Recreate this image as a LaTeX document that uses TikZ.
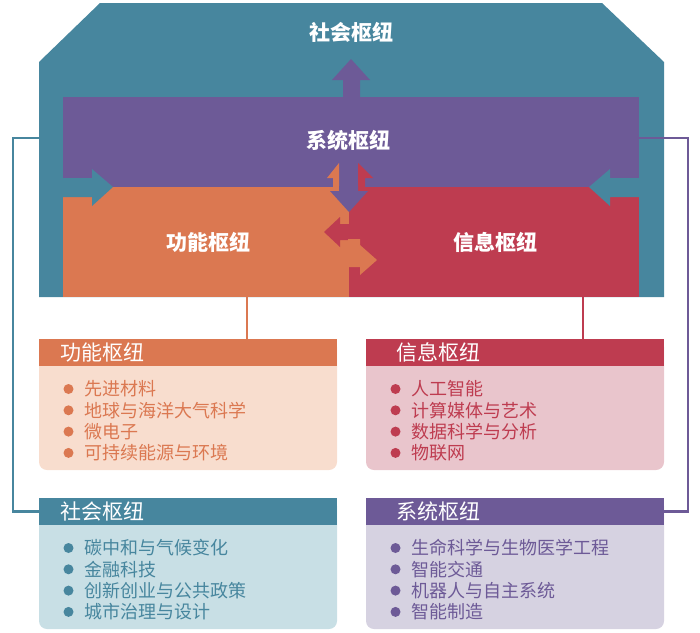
\documentclass[tikz,border=0pt]{standalone}
\usepackage{fontspec}
\usepackage{tikz}
\usetikzlibrary{positioning, calc}
\newfontfamily\cjk{Noto Sans CJK SC}

\definecolor{hubTeal}{HTML}{47869E}
\definecolor{hubPurple}{HTML}{6D5A97}
\definecolor{hubOrange}{HTML}{DB7851}
\definecolor{hubRed}{HTML}{BE3C50}
\definecolor{lightTeal}{HTML}{C8DFE5}
\definecolor{lightPurple}{HTML}{D6D2E1}
\definecolor{lightOrange}{HTML}{F8DDCE}
\definecolor{lightRed}{HTML}{E9C5CC}

\tikzset{
  big/.style={font=\cjk\bfseries\fontsize{21}{25}\selectfont, text=white, inner sep=0pt},
  hdrbox/.style={minimum width=298pt, minimum height=27pt, inner sep=0pt, outer sep=0pt, anchor=north west},
  hdr/.style={font=\cjk\fontsize{21}{25}\selectfont, text=white, anchor=west, inner sep=0pt},
  item/.style={font=\cjk\fontsize{18}{21}\selectfont, anchor=west, inner sep=0pt},
  link/.style={line width=2.5pt},
}

% 卡片: #1 名称 #2 左 #3 上 #4 主色 #5 浅色 #6 标题缩进 #7 标题 #8 条目
\newcommand{\hubcard}[8]{%
  \fill[#5, rounded corners=8pt] (#2,#3) rectangle ++(298,131);
  \node[hdrbox, fill=#4] (#1) at (#2,#3) {};
  \node[hdr] (#1-title) at ($(#1.west)+(#6,0)$) {#7};
  \foreach \itm [count=\i] in {#8} {
    \fill[#4] ($(#1.west)+(29.5,{15.2+21.3*\i})$) circle (5pt);
    \node[item, text=#4] (#1-\i) at ($(#1.west)+(45.5,{15.2+21.3*\i})$) {\itm};
  }
}

\begin{document}
\begin{tikzpicture}[x=1pt, y=-1pt]
  \useasboundingbox (0,0) rectangle (700,632);
  % 社会枢纽外框
  \fill[hubTeal] (100,3) -- (602,3) -- (664,62) -- (664,297) -- (39,297) -- (39,62) -- cycle;
  % 系统、功能、信息
  \fill[hubPurple] (63,97) rectangle (639,187);
  \fill[hubOrange] (63,187) rectangle (349,297);
  \fill[hubRed] (349,187) rectangle (639,297);
  % 箭头
  \fill[hubPurple] (343,98) -- (343,80) -- (332,80) -- (351,59) -- (370,80) -- (360,80) -- (360,98) -- cycle;
  \fill[hubTeal] (63,178) -- (92,178) -- (92,169) -- (113,187) -- (92,206) -- (92,197) -- (63,197) -- cycle;
  \fill[hubTeal] (639,178) -- (610,178) -- (610,169) -- (589,187) -- (610,206) -- (610,197) -- (639,197) -- cycle;
  \fill[hubOrange] (333,188) -- (333,178) -- (327,178) -- (339,163) -- (339,188) -- cycle;
  \fill[hubRed] (365,188) -- (365,178) -- (373,178) -- (358,163) -- (358,188) -- cycle;
  \fill[hubPurple] (339,186) -- (339,191) -- (330,191) -- (349,212) -- (368,191) -- (358,191) -- (358,186) -- cycle;
  \fill[hubRed] (350,224) -- (340,224) -- (340,217) -- (324,232) -- (340,247) -- (340,240) -- (350,240) -- cycle;
  \fill[hubOrange] (348,239) -- (360,239) -- (360,245) -- (377,260) -- (360,275) -- (360,267) -- (348,267) -- cycle;
  % 标题
  \node[big] (soc) at (351,32) {社会枢纽};
  \node[big] (sys) at (348,140) {系统枢纽};
  \node[big] (fun) at (208,242) {功能枢纽};
  \node[big] (inf) at (495,242) {信息枢纽};
  % 卡片
  \hubcard{fh}{39}{339}{hubOrange}{lightOrange}{21.5}{功能枢纽}{先进材料, 地球与海洋大气科学, 微电子, 可持续能源与环境}
  \hubcard{ih}{366}{339}{hubRed}{lightRed}{30}{信息枢纽}{人工智能, 计算媒体与艺术, 数据科学与分析, 物联网}
  \hubcard{sh}{39}{498}{hubTeal}{lightTeal}{21.5}{社会枢纽}{碳中和与气候变化, 金融科技, 创新创业与公共政策, 城市治理与设计}
  \hubcard{yh}{366}{498}{hubPurple}{lightPurple}{30}{系统枢纽}{生命科学与生物医学工程, 智能交通, 机器人与自主系统, 智能制造}
  % 连线
  \coordinate (soc-w) at (39,138);
  \coordinate (sys-e) at (639,138);
  \coordinate (fun-s) at (247,297);
  \coordinate (inf-s) at (583,297);
  \draw[link, hubTeal] (soc-w) -- ++(-26,0) |- (sh.west);
  \draw[link, hubPurple] (sys-e) -- ++(49,0) |- (yh.east);
  \draw[link, hubOrange] (fun-s) -- (fun-s |- fh.north);
  \draw[link, hubRed] (inf-s) -- (inf-s |- ih.north);
\end{tikzpicture}
\end{document}
